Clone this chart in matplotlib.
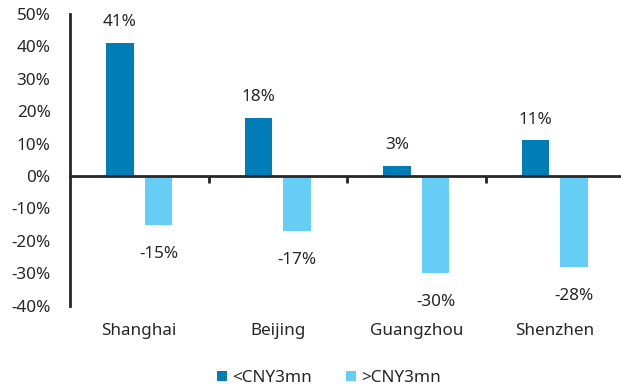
import matplotlib
matplotlib.use("Agg")
import matplotlib.pyplot as plt
import numpy as np
from matplotlib.transforms import blended_transform_factory

cities = ["Shanghai", "Beijing", "Guangzhou", "Shenzhen"]
series_names = ["<CNY3mn", ">CNY3mn"]
below_3mn = [41, 18, 3, 11]
above_3mn = [-15, -17, -30, -28]
y_ticks = [-40, -30, -20, -10, 0, 10, 20, 30, 40, 50]

dark_blue = "#007DB6"
light_blue = "#66CEF5"
ink = "#262626"

plt.rcParams["font.family"] = ["Noto Sans", "DejaVu Sans"]

fig = plt.figure(figsize=(6.21, 3.91), dpi=100)
ax = fig.add_axes([70 / 621, 1 - 305.6 / 391, 554 / 621, (305.6 - 14) / 391])

x = np.arange(len(cities))
width = 0.2
off = 0.14
b1 = ax.bar(x - off, below_3mn, width, color=dark_blue, label=series_names[0])
b2 = ax.bar(x + off, above_3mn, width, color=light_blue, label=series_names[1])

for xi, v in zip(x - off, below_3mn):
    ax.annotate(f"{v}%", (xi, v), xytext=(0, 15), textcoords="offset points",
                ha="center", va="center", fontsize=12.3, color=ink)
for xi, v in zip(x + off, above_3mn):
    ax.annotate(f"{v}%", (xi, v), xytext=(0, -21), textcoords="offset points",
                ha="center", va="center", fontsize=12.3, color=ink)

ax.set_xlim(-0.5, 3.5)
ax.set_ylim(-40, 50)
ax.set_yticks(y_ticks)
ax.set_yticklabels([f"{t}%" for t in y_ticks], fontsize=12.3, color=ink)
ax.tick_params(axis="y", length=0, pad=14)

for s in ["top", "right"]:
    ax.spines[s].set_visible(False)
ax.spines["left"].set_color(ink)
ax.spines["left"].set_linewidth(2)
ax.spines["bottom"].set_position(("data", 0))
ax.spines["bottom"].set_color(ink)
ax.spines["bottom"].set_linewidth(2)
ax.set_xticks([0.5, 1.5, 2.5, 3.5])
ax.set_xticklabels([])
ax.tick_params(axis="x", length=5, width=2, color=ink, direction="out")

trans = blended_transform_factory(ax.transData, ax.transAxes)
for xi, name in zip(x, cities):
    ax.text(xi, -25.5 / 291.6, name, transform=trans, ha="center", va="center",
            fontsize=12.3, color=ink)

fig.legend(handles=[b1, b2], labels=series_names, loc="center",
           bbox_to_anchor=(0.53, 1 - 378 / 391), ncol=2, frameon=False,
           fontsize=12.3, handlelength=0.6, handleheight=0.6, handletextpad=0.3,
           columnspacing=2.0, labelcolor=ink)

fig.savefig("out.png", dpi=100)
